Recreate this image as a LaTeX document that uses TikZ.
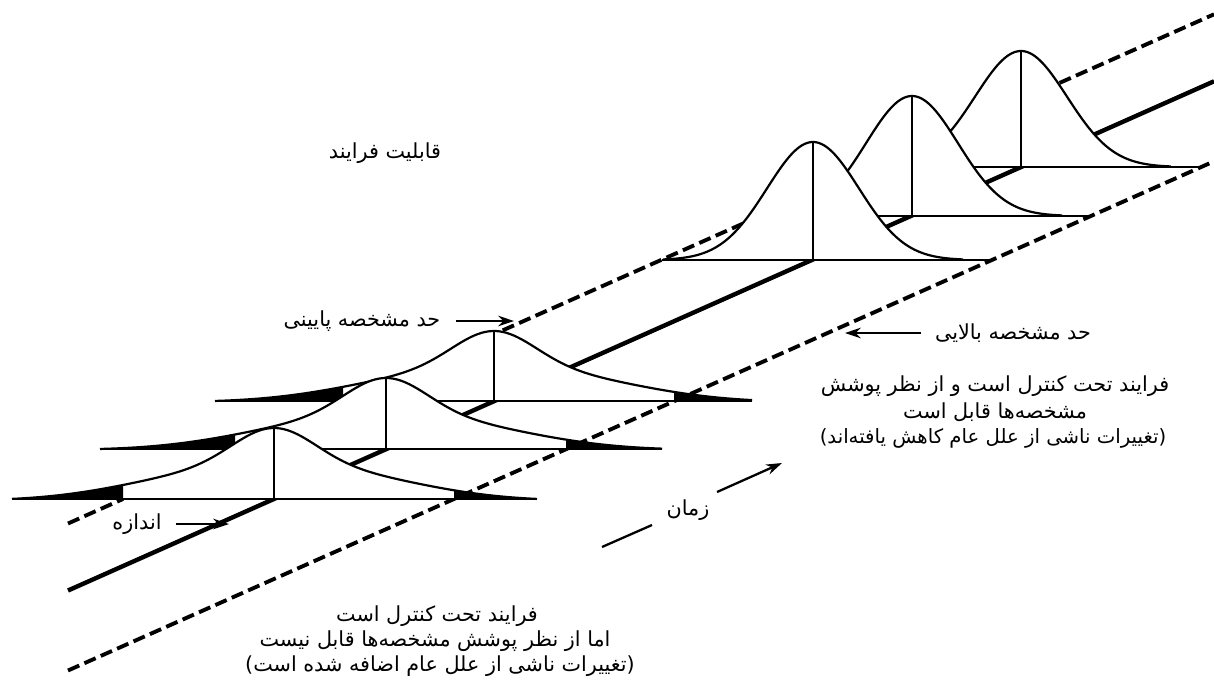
\documentclass[tikz,border=0pt]{standalone}
\usepackage{fontspec}
\newfontfamily\fa[Script=Arabic]{DejaVu Sans}
\TeXXeTstate=1
\usetikzlibrary{arrows.meta}
\newcommand\lcurve[6]{%
  \pgfmathsetmacro\lclo{#1-151}\pgfmathsetmacro\lchi{#1+180}%
  \fill[white] (#4,#2) -- plot[domain=#4:#5,samples=150,smooth] (\x,{#2-lh(\x,#1,#3,#6)}) -- (#5,#2) -- cycle;
  \fill[black] (#4,#2) -- plot[domain=#4:\lclo,samples=50,smooth] (\x,{#2-lh(\x,#1,#3,#6)}) -- (\lclo,#2) -- cycle;
  \fill[black] (\lchi,#2) -- plot[domain=\lchi:#5,samples=50,smooth] (\x,{#2-lh(\x,#1,#3,#6)}) -- (#5,#2) -- cycle;
  \draw[curve] plot[domain=#4:#5,samples=150,smooth] (\x,{#2-lh(\x,#1,#3,#6)});
  \draw[base] (#4,#2) -- (#5,#2);
  \draw[curve] (#1,{#2-#3}) -- (#1,#2);
}
\newcommand\rcurve[3]{%
  \pgfmathsetmacro\rclo{#1-151}\pgfmathsetmacro\rchi{#1+180}%
  \pgfmathsetmacro\rca{#1-150}\pgfmathsetmacro\rcb{#1+150}%
  \fill[white] (\rca,#2) -- plot[domain=\rca:\rcb,samples=120,smooth] (\x,{#2-rh(\x,#1,#3)}) -- cycle;
  \draw[curve] plot[domain=\rca:\rcb,samples=120,smooth] (\x,{#2-rh(\x,#1,#3)});
  \draw[base] (\rclo,#2) -- (\rchi,#2);
  \draw[curve] (#1,{#2-#3}) -- (#1,#2);
}
\begin{document}
\begin{tikzpicture}[x=0.02cm,y=-0.02cm,
  declare function={
    lh(\x,\c,\H,\W)=\H*(0.5*exp(-0.5*((\x-\c)/40)*((\x-\c)/40))+0.5*exp(-0.5*((\x-\c)/118)*((\x-\c)/118)))*(1-((\x-\c)/\W)*((\x-\c)/\W)*((\x-\c)/\W)*((\x-\c)/\W));
    rh(\x,\c,\H)=\H*exp(-0.5*((\x-\c)/46)*((\x-\c)/46));
  },
  curve/.style={line width=1.25pt,line join=round},
  base/.style={line width=1.4pt},
  axisline/.style={line width=2.5pt},
  limline/.style={line width=2.2pt,dash pattern=on 7pt off 3.2pt},
  lbl/.style={font=\fa\fontsize{11.8}{14}\selectfont,inner sep=1pt},
  small/.style={font=\fa\fontsize{11.2}{13}\selectfont,inner sep=1pt},
  arr/.style={line width=1.3pt,-{Stealth[length=9pt,width=6pt]}},
]
\fill[white] (0,0) rectangle (1214,691);
\useasboundingbox (0,0) rectangle (1214,691);
% spec limits and time axis
\draw[limline] (68,670.5) -- (1214,161.3);
\draw[axisline] (68,590.5) -- (1214,81.3);
\draw[limline] (470,344.9) -- (1214,14.3);
% left group (back to front)
\lcurve{494}{401}{70}{215}{752}{281}
\lcurve{386}{449}{71}{100}{662}{288}
\lcurve{274}{499}{71}{12}{537}{265}
% right group (back to front)
\rcurve{1021}{167}{116}
\rcurve{912}{216}{120}
\rcurve{813}{260}{118}
\draw[limline] (68,523.5) -- (123,499);
% labels
\node[lbl] (cap) at (385,153) {\beginR قابلیت فرایند\endR};
\node[lbl] (lslt) at (362,321) {\beginR حد مشخصه پایینی\endR};
\coordinate (lslp) at (514,321);
\draw[arr] (lslt.east) ++(14,0) -- (lslp);
\node[lbl] (uslt) at (1013,333) {\beginR حد مشخصه بالایی\endR};
\coordinate (uslp) at (845,333);
\draw[arr] (uslt.west) ++(-12,0) -- (uslp);
\node[lbl] (r1) at (995,386) {\beginR فرایند تحت کنترل است و از نظر پوشش\endR};
\node[lbl] (r2) at (995,412) {\beginR مشخصه^^^^200cها قابل است\endR};
\node[small] (r3) at (993,438) {\beginR (تغییرات ناشی از علل عام کاهش یافته^^^^200cاند)\endR};
\node[lbl] (b1) at (437,616) {\beginR فرایند تحت کنترل است\endR};
\node[lbl] (b2) at (435,641) {\beginR اما از نظر پوشش مشخصه^^^^200cها قابل نیست\endR};
\node[lbl] (b3) at (440,666) {\beginR (تغییرات ناشی از علل عام اضافه شده است)\endR};
\node[lbl] (size) at (137,524) {\beginR اندازه\endR};
\coordinate (sizep) at (229,524);
\draw[arr] (size.east) ++(12,0) -- (sizep);
\node[lbl] (time) at (688,510) {\beginR زمان\endR};
\coordinate (t1) at (602,547);
\coordinate (t2) at (652,525);
\draw[line width=1.3pt] (t1) -- (t2);
\coordinate (t3) at (717,492);
\coordinate (t4) at (782,463);
\draw[arr] (t3) -- (t4);
\end{tikzpicture}
\end{document}
